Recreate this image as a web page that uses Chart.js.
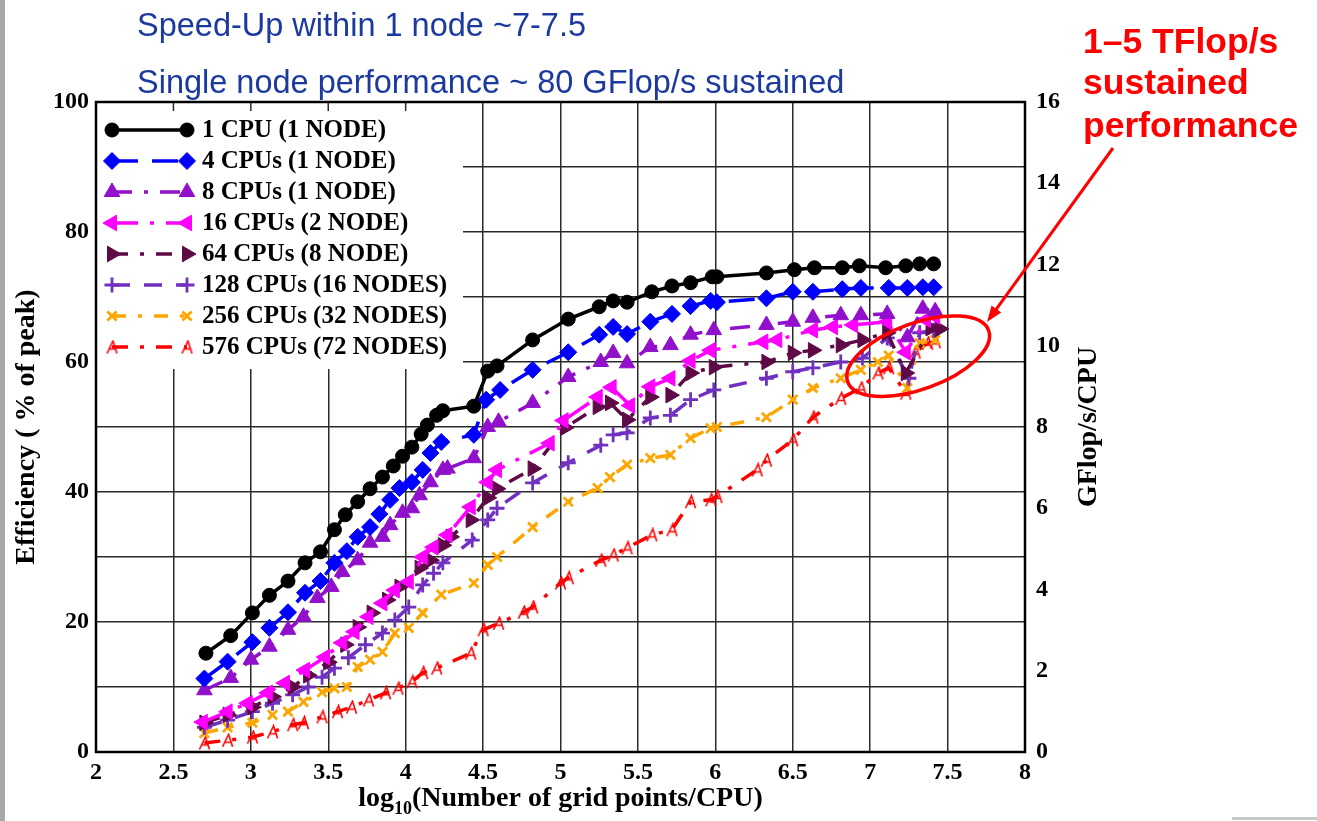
<!DOCTYPE html>
<html>
<head>
<meta charset="utf-8">
<script src="https://cdn.jsdelivr.net/npm/chart.js@4.4.0/dist/chart.umd.min.js"></script>
<style>
  html, body { margin: 0; padding: 0; background: #fff; }
  #wrap { width: 1317px; height: 821px; position: relative; }
</style>
</head>
<body>
<div id="wrap"><canvas id="effChart" width="1317" height="821"></canvas></div>
<script>
// series values (x = log10 grid points per CPU, y = efficiency % of peak)
const cpu1X = [2.71,2.87,3.01,3.12,3.24,3.35,3.45,3.54,3.61,3.69,3.77,3.85,3.92,3.98,4.04,4.10,4.14,4.20,4.24,4.44,4.53,4.59,4.82,5.05,5.25,5.34,5.43,5.59,5.72,5.84,5.98,6.01,6.33,6.51,6.64,6.82,6.93,7.10,7.23,7.32,7.41];
const cpu1Y = [15.2,17.9,21.4,24.1,26.3,29.1,30.8,34.2,36.5,38.5,40.5,42.3,44.0,45.5,46.9,48.9,50.3,51.8,52.5,53.2,58.6,59.4,63.4,66.6,68.5,69.4,69.2,70.8,71.7,72.2,73.1,73.1,73.7,74.2,74.5,74.5,74.8,74.5,74.8,75.1,75.1];

const cpu4X = [2.70,2.85,3.01,3.12,3.24,3.35,3.45,3.54,3.62,3.69,3.77,3.83,3.90,3.96,4.04,4.11,4.16,4.23,4.44,4.52,4.61,4.82,5.05,5.25,5.34,5.43,5.58,5.72,5.84,5.97,6.01,6.33,6.50,6.63,6.82,6.94,7.12,7.24,7.34,7.41];
const cpu4Y = [11.3,13.9,16.9,19.1,21.5,24.5,26.3,29.1,30.9,33.1,34.6,36.6,38.8,40.6,41.5,43.4,46.0,47.7,48.8,54.2,55.7,58.8,61.5,64.2,65.4,64.3,66.2,67.4,68.6,69.4,69.2,69.8,70.8,70.8,71.2,71.4,71.4,71.4,71.5,71.5];

const cpu8X = [2.70,2.87,3.00,3.12,3.24,3.34,3.43,3.52,3.59,3.69,3.77,3.85,3.90,3.98,4.04,4.09,4.16,4.24,4.27,4.44,4.53,4.60,4.82,5.05,5.26,5.34,5.43,5.58,5.71,5.84,5.99,6.33,6.50,6.63,6.81,6.94,7.11,7.24,7.34,7.42];
const cpu8Y = [9.5,11.4,14.2,16.2,18.8,20.8,23.7,25.4,27.7,29.5,32.2,33.1,34.9,36.8,37.5,39.5,41.5,43.4,43.6,45.2,50.0,50.8,53.7,57.7,60.0,61.4,59.8,62.3,62.6,64.2,64.9,65.7,66.2,66.8,67.2,67.2,67.4,63.8,68.2,67.8];

const cpu16X = [2.69,2.85,2.98,3.11,3.22,3.35,3.48,3.59,3.67,3.76,3.85,3.93,4.02,4.11,4.18,4.27,4.42,4.53,4.59,4.93,5.02,5.24,5.33,5.45,5.58,5.71,5.84,5.97,6.31,6.40,6.63,6.76,6.89,7.11,7.23,7.36,7.42];
const cpu16Y = [4.6,6.2,7.5,9.1,10.6,12.6,14.6,16.8,18.5,20.8,22.9,24.9,26.2,30.0,31.5,33.4,37.7,41.5,43.4,47.5,51.0,54.6,56.1,53.3,56.2,57.5,60.2,61.8,63.1,63.4,64.9,65.4,65.7,66.2,61.5,66.5,67.0];

const cpu64X = [2.70,2.85,3.01,3.14,3.27,3.37,3.50,3.61,3.69,3.78,3.88,3.96,4.09,4.16,4.24,4.29,4.42,4.53,4.59,4.82,5.03,5.24,5.32,5.43,5.58,5.71,5.84,5.99,6.33,6.50,6.63,6.81,6.95,7.11,7.23,7.39,7.45];
const cpu64Y = [4.5,5.7,6.9,8.5,10.0,11.8,13.8,16.5,19.2,21.4,23.4,25.4,28.3,29.5,31.8,33.1,35.7,39.1,40.5,43.6,49.9,53.1,53.7,51.1,54.6,54.9,58.3,59.2,60.0,61.4,61.8,62.6,63.4,64.5,58.3,65.2,65.1];

const cpu128X = [2.70,2.85,3.01,3.14,3.27,3.37,3.46,3.54,3.63,3.74,3.85,3.93,4.02,4.11,4.18,4.24,4.43,4.53,4.59,4.82,5.05,5.26,5.34,5.43,5.58,5.71,5.84,5.99,6.33,6.50,6.63,6.81,6.95,7.11,7.25,7.32,7.41];
const cpu128Y = [3.8,4.9,6.2,7.5,8.8,10.0,11.5,12.9,14.5,16.5,18.3,20.3,22.3,25.7,27.5,29.1,32.6,35.7,37.5,41.4,44.5,47.2,48.8,49.1,51.4,51.8,54.2,55.7,57.5,58.5,59.1,60.0,60.6,63.7,57.5,64.5,64.9];

const cpu256X = [2.70,2.85,3.01,3.14,3.24,3.34,3.46,3.54,3.62,3.69,3.77,3.85,3.93,4.02,4.11,4.23,4.44,4.53,4.59,4.82,5.05,5.24,5.32,5.43,5.58,5.71,5.84,5.97,6.01,6.33,6.50,6.63,6.81,6.94,7.05,7.12,7.24,7.32,7.42];
const cpu256Y = [2.9,3.8,4.5,5.7,6.2,7.7,9.2,9.8,10.0,13.1,14.2,15.4,18.3,19.1,21.4,24.2,26.0,28.8,30.0,34.6,38.5,40.6,42.3,44.2,45.2,45.7,48.3,49.8,50.0,51.5,54.2,56.0,57.5,58.8,60.0,61.0,56.0,62.9,63.4];

const cpu576X = [2.70,2.85,3.01,3.14,3.27,3.34,3.46,3.56,3.65,3.76,3.87,3.95,4.04,4.11,4.20,4.42,4.50,4.60,4.76,4.82,5.00,5.05,5.26,5.34,5.43,5.59,5.72,5.84,5.97,6.01,6.27,6.33,6.50,6.63,6.81,6.94,7.05,7.12,7.23,7.29,7.37,7.42];
const cpu576Y = [1.4,1.8,2.3,3.1,4.2,4.5,5.4,6.2,6.9,8.0,9.1,9.8,10.8,12.2,12.9,15.2,18.8,19.8,21.5,22.3,26.0,26.8,29.5,30.3,31.4,33.4,34.2,38.5,38.8,39.3,43.4,44.9,48.0,51.5,54.4,56.0,58.3,59.1,55.2,61.5,62.9,63.1];

const seriesLabels = ["1 CPU (1 NODE)", "4 CPUs (1 NODE)", "8 CPUs (1 NODE)", "16 CPUs (2 NODE)",
  "64 CPUs (8 NODE)", "128 CPUs (16 NODES)", "256 CPUs (32 NODES)", "576 CPUs (72 NODES)"];

// axis ticks
const xTicks = [2, 2.5, 3, 3.5, 4, 4.5, 5, 5.5, 6, 6.5, 7, 7.5, 8];
const effGrid = [0, 10, 20, 30, 40, 50, 60, 70, 80, 90, 100];
const effTicks = [0, 20, 40, 60, 80, 100];
const gflopTicks = [0, 2, 4, 6, 8, 10, 12, 14, 16];

const SERIF = '"Liberation Serif", "DejaVu Serif", serif';
const SANS = '"Liberation Sans", Arial, sans-serif';

// red marker for the 576 CPU curve
function makeLambda() {
  const c = document.createElement("canvas");
  c.width = 13; c.height = 15;
  const g = c.getContext("2d");
  g.strokeStyle = "#ff0000";
  g.lineWidth = 1.6;
  g.beginPath();
  g.moveTo(1.5, 14); g.lineTo(7.5, 1.5); g.lineTo(11.5, 14);
  g.moveTo(3.5, 9.5); g.lineTo(10.5, 9.5);
  g.stroke();
  return c;
}

const styles = [
  { color: "#000000", dash: [], point: "circle", radius: 7, rot: 0 },
  { color: "#0000ff", dash: [26, 14], point: "rectRot", radius: 8.5, rot: 0 },
  { color: "#9010cc", dash: [20, 12, 4, 12], point: "triangle", radius: 9, rot: 0 },
  { color: "#ff00ff", dash: [26, 12, 4, 12], point: "triangle", radius: 9, rot: 270 },
  { color: "#5e0a46", dash: [16, 12, 4, 12], point: "triangle", radius: 9, rot: 90 },
  { color: "#7030c0", dash: [18, 14], point: "cross", radius: 7.5, rot: 0, bw: 2.8 },
  { color: "#ffa500", dash: [14, 12, 4, 12], point: "crossRot", radius: 6.5, rot: 0, bw: 2.8 },
  { color: "#ff0000", dash: [16, 12, 4, 12], point: makeLambda(), radius: 6, rot: 0 }
];

const xs = [cpu1X, cpu4X, cpu8X, cpu16X, cpu64X, cpu128X, cpu256X, cpu576X];
const ys = [cpu1Y, cpu4Y, cpu8Y, cpu16Y, cpu64Y, cpu128Y, cpu256Y, cpu576Y];

const datasets = seriesLabels.map((label, i) => ({
  label: label,
  data: xs[i].map((x, j) => ({ x: x, y: ys[i][j] })),
  borderColor: styles[i].color,
  backgroundColor: styles[i].color,
  borderWidth: 3.5,
  borderDash: styles[i].dash,
  pointStyle: styles[i].point,
  pointRadius: styles[i].radius,
  pointRotation: styles[i].rot,
  pointBorderWidth: styles[i].bw || 1,
  tension: 0,
  yAxisID: "y"
}));

// legend, titles and annotations drawn on canvas
const decorations = {
  id: "decorations",
  beforeDraw(chart) {
    const ctx = chart.ctx;
    ctx.save();
    ctx.fillStyle = "#ffffff";
    ctx.fillRect(0, 0, chart.width, chart.height);
    ctx.fillStyle = "#a8a8a8";
    ctx.fillRect(0, 0, 5, chart.height);
    ctx.fillStyle = "#c8c8c8";
    ctx.fillRect(1232, 817, 85, 3);
    ctx.restore();
  },
  afterDatasetsDraw(chart) {
    const ctx = chart.ctx;
    const a = chart.chartArea;
    ctx.save();
    // legend box
    ctx.fillStyle = "#ffffff";
    ctx.fillRect(a.left + 1, a.top + 1, 366, 266);
    // small inner ticks along the frame under the legend
    ctx.strokeStyle = "#2a2a2a";
    ctx.lineWidth = 1.5;
    xTicks.forEach(v => {
      const px = chart.scales.x.getPixelForValue(v);
      if (px > a.left + 5 && px < a.left + 367) {
        ctx.beginPath(); ctx.moveTo(px, a.top); ctx.lineTo(px, a.top + 9); ctx.stroke();
      }
    });
    const rowY = [130, 161, 192, 223, 254, 285, 316, 347];
    seriesLabels.forEach((label, i) => {
      const s = styles[i];
      const y = rowY[i];
      ctx.strokeStyle = s.color;
      ctx.lineWidth = 3.5;
      ctx.setLineDash(s.dash);
      ctx.beginPath();
      ctx.moveTo(112, y);
      ctx.lineTo(187, y);
      ctx.stroke();
      ctx.setLineDash([]);
      ctx.fillStyle = s.color;
      ctx.lineWidth = s.bw || 1;
      [112, 187].forEach(px => {
        Chart.helpers.drawPoint(ctx, { pointStyle: s.point, radius: s.radius, rotation: s.rot, borderWidth: s.bw || 1 }, px, y);
      });
      ctx.fillStyle = "#000000";
      ctx.font = "bold 25px " + SERIF;
      ctx.textAlign = "left";
      ctx.textBaseline = "middle";
      ctx.fillText(label, 202, y + 1);
    });
    ctx.restore();
  },
  afterDraw(chart) {
    const ctx = chart.ctx;
    const a = chart.chartArea;
    ctx.save();
    // plot frame
    ctx.strokeStyle = "#000000";
    ctx.lineWidth = 2.5;
    ctx.strokeRect(a.left, a.top, a.right - a.left, a.bottom - a.top);

    // axis titles
    ctx.fillStyle = "#000000";
    ctx.font = "bold 28px " + SERIF;
    ctx.textAlign = "center";
    ctx.textBaseline = "middle";
    ctx.save();
    ctx.translate(27, (a.top + a.bottom) / 2);
    ctx.rotate(-Math.PI / 2);
    ctx.fillText("Efficiency ( % of peak)", 0, 0);
    ctx.restore();
    ctx.save();
    ctx.translate(1089, (a.top + a.bottom) / 2);
    ctx.rotate(-Math.PI / 2);
    ctx.fillText("GFlop/s/CPU", 0, 0);
    ctx.restore();

    // x title with subscript
    const big = "bold 28px " + SERIF, small = "bold 18px " + SERIF;
    ctx.textAlign = "left";
    ctx.textBaseline = "alphabetic";
    ctx.font = big; const w1 = ctx.measureText("log").width;
    const w3 = ctx.measureText("(Number of grid points/CPU)").width;
    ctx.font = small; const w2 = ctx.measureText("10").width;
    let tx = (a.left + a.right) / 2 - (w1 + w2 + w3) / 2;
    const ty = 806;
    ctx.font = big; ctx.fillText("log", tx, ty); tx += w1;
    ctx.font = small; ctx.fillText("10", tx, ty + 8); tx += w2;
    ctx.font = big; ctx.fillText("(Number of grid points/CPU)", tx, ty);

    // blue notes at top
    ctx.fillStyle = "#1c3a9e";
    ctx.font = "32.5px " + SANS;
    ctx.fillText("Speed-Up within 1 node ~7-7.5", 137, 36);
    ctx.fillText("Single node performance ~ 80 GFlop/s sustained", 137, 93);

    // red callout
    ctx.fillStyle = "#ff0000";
    ctx.font = "bold 35.5px " + SANS;
    ctx.fillText("1\u20135 TFlop/s", 1083, 53);
    ctx.fillText("sustained", 1083, 94);
    ctx.fillText("performance", 1083, 137);

    // ellipse around the multi-node end points
    const xs = chart.scales.x, yv = chart.scales.y;
    const cx = xs.getPixelForValue(7.31), cy = yv.getPixelForValue(60.9);
    ctx.strokeStyle = "#ff0000";
    ctx.lineWidth = 3.5;
    ctx.beginPath();
    ctx.ellipse(cx, cy, 75, 33, -20 * Math.PI / 180, 0, Math.PI * 2);
    ctx.stroke();

    // arrow
    const x0 = 1113, y0 = 148, x1 = 987, y1 = 322;
    const ang = Math.atan2(y1 - y0, x1 - x0);
    ctx.lineWidth = 3;
    ctx.beginPath();
    ctx.moveTo(x0, y0);
    ctx.lineTo(x1 - 10 * Math.cos(ang), y1 - 10 * Math.sin(ang));
    ctx.stroke();
    ctx.fillStyle = "#ff0000";
    ctx.beginPath();
    ctx.moveTo(x1, y1);
    ctx.lineTo(x1 - 16 * Math.cos(ang) + 6 * Math.sin(ang), y1 - 16 * Math.sin(ang) - 6 * Math.cos(ang));
    ctx.lineTo(x1 - 16 * Math.cos(ang) - 6 * Math.sin(ang), y1 - 16 * Math.sin(ang) + 6 * Math.cos(ang));
    ctx.closePath();
    ctx.fill();
    ctx.restore();
  }
};

const tickFont = { family: SERIF, size: 24, weight: "bold" };

new Chart(document.getElementById("effChart").getContext("2d"), {
  type: "line",
  data: { datasets: datasets },
  options: {
    responsive: false,
    animation: false,
    layout: { padding: { top: 102, left: 0, right: 0, bottom: 0 } },
    plugins: { legend: { display: false }, tooltip: { enabled: false } },
    scales: {
      x: {
        type: "linear",
        min: xTicks[0],
        max: xTicks[xTicks.length - 1],
        afterBuildTicks: s => { s.ticks = xTicks.map(v => ({ value: v })); },
        afterFit: s => { s.height = 69; },
        ticks: { font: tickFont, color: "#000", padding: 6, autoSkip: false, maxRotation: 0, callback: v => String(v) },
        grid: { color: "#2a2a2a", lineWidth: 1.5, drawTicks: false },
        border: { display: false }
      },
      y: {
        position: "left",
        min: 0,
        max: 100,
        afterBuildTicks: s => { s.ticks = effGrid.map(v => ({ value: v })); },
        afterFit: s => { s.width = 96; },
        ticks: { font: tickFont, color: "#000", padding: 7, autoSkip: false,
          callback: v => effTicks.includes(v) ? String(v) : "" },
        grid: { color: "#2a2a2a", lineWidth: 1.5, drawTicks: false },
        border: { display: false }
      },
      y2: {
        position: "right",
        min: 0,
        max: 16,
        afterBuildTicks: s => { s.ticks = gflopTicks.map(v => ({ value: v })); },
        afterFit: s => { s.width = 292; },
        ticks: { font: tickFont, color: "#000", padding: 11, autoSkip: false },
        grid: { display: false, drawTicks: false },
        border: { display: false }
      }
    }
  },
  plugins: [decorations]
});
</script>
</body>
</html>
